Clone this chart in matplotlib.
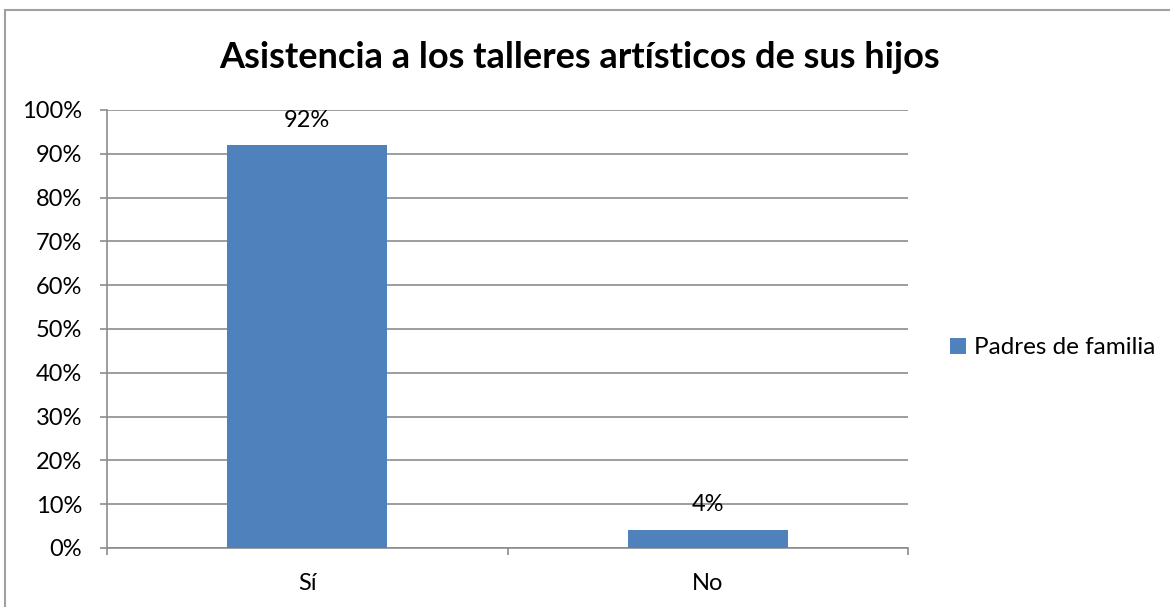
import matplotlib.pyplot as plt
from matplotlib.patches import Rectangle
from matplotlib.ticker import MultipleLocator, PercentFormatter

categories = ['Sí', 'No']
values = [0.92, 0.042]
series_name = 'Padres de familia'
title = 'Asistencia a los talleres artísticos de sus hijos'

bar_color = '#4f81bd'
grid_color = '#8c8c8c'

plt.rcParams['font.family'] = ['Lato', 'DejaVu Sans']

fig = plt.figure(figsize=(11.7, 6.07), dpi=100)
ax = fig.add_axes([107 / 1170, 59 / 607, 801 / 1170, 438 / 607])

x = list(range(len(categories)))
bars = ax.bar(x, values, width=0.4, color=bar_color, label=series_name, zorder=3)

for b, v in zip(bars, values):
    ax.annotate(f'{v:.0%}', (b.get_x() + b.get_width() / 2, v),
                xytext=(0, 18), textcoords='offset points',
                ha='center', va='center', fontsize=17, color='black', zorder=4)

ax.set_xlim(-0.5, len(categories) - 0.5)
ax.set_ylim(0, 1)
ax.yaxis.set_major_locator(MultipleLocator(0.1))
ax.yaxis.set_major_formatter(PercentFormatter(1.0, decimals=0))
ax.set_xticks(x)
ax.set_xticklabels(categories)
ax.set_xticks([-0.5, 0.5, 1.5], minor=True)

ax.grid(axis='y', color=grid_color, linewidth=1.2, zorder=0)
for side in ['top', 'right']:
    ax.spines[side].set_visible(False)
for side in ['left', 'bottom']:
    ax.spines[side].set_color(grid_color)
    ax.spines[side].set_linewidth(1.2)

ax.tick_params(axis='y', length=5, width=1.2, color=grid_color, labelsize=17, pad=13)
ax.tick_params(axis='x', which='major', length=0, labelsize=17, pad=18)
ax.tick_params(axis='x', which='minor', length=5, width=1.2, color=grid_color)

fig.suptitle(title, x=580 / 1170, y=1 - 57 / 607, va='center',
             fontsize=26, fontweight='bold')

fig.legend(handles=[bars], labels=[series_name], loc='center left',
           bbox_to_anchor=(933 / 1170, 1 - 348 / 607), frameon=False,
           fontsize=17.5, handlelength=0.65, handleheight=0.65, handletextpad=0.35,
           borderpad=0.2)

# chart outer border (only left and top edges are visible in the crop)
fig.patches.append(Rectangle((5 / 1170, -0.05), 1.2, 1.05 - 10 / 607,
                             transform=fig.transFigure, fill=False,
                             edgecolor='#a0a0a0', linewidth=1.5))

fig.savefig('out.png', dpi=100)
